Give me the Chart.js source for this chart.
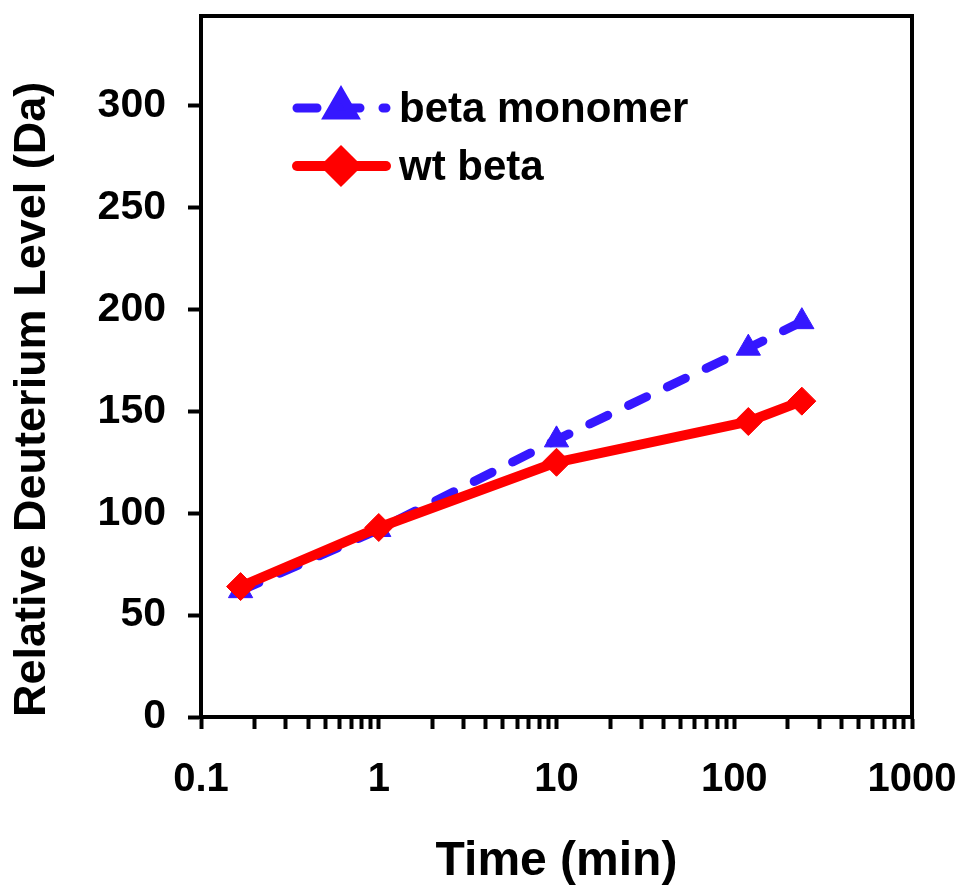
<!DOCTYPE html>
<html>
<head>
<meta charset="utf-8">
<script src="https://cdn.jsdelivr.net/npm/chart.js@4"></script>
<style>
  body { margin: 0; background: #fff; }
</style>
</head>
<body>
<canvas id="deutChart" width="961" height="891"></canvas>
<script>
// time points (min) and deuterium levels (Da)
const times = [0.167, 1, 10, 120, 240];
const monomerLevels = [62, 92, 136, 181, 194];
const wtLevels = [64, 93, 125, 145, 155];
const seriesNames = ['beta monomer', 'wt beta'];
const yTicks = [0, 50, 100, 150, 200, 250, 300];
const xMajor = [0.1, 1, 10, 100, 1000];

const FONT = '"Liberation Sans", Arial, sans-serif';
const BLUE = '#3517ff';
const RED = '#ff0000';

// log ticks: majors plus 2..9 minors in each decade
function logTicks() {
  const out = [];
  xMajor.forEach((m, i) => {
    out.push({ value: m, major: true });
    if (i < xMajor.length - 1) {
      for (let k = 2; k <= 9; k++) out.push({ value: m * k, major: false });
    }
  });
  return out;
}

// kill the automatic label padding so the plot box sits where we want it
function noPad(axis) {
  axis.paddingTop = 0;
  axis.paddingBottom = 0;
  axis.paddingLeft = 0;
  axis.paddingRight = 0;
}

// frame around plot area
const framePlugin = {
  id: 'frame',
  afterDraw(chart) {
    const a = chart.chartArea, ctx = chart.ctx;
    ctx.save();
    ctx.strokeStyle = '#000';
    ctx.lineWidth = 4;
    ctx.strokeRect(a.left, a.top, a.right - a.left, a.bottom - a.top);
    ctx.restore();
  }
};

// legend drawn like the original: line sample with marker in the middle
const legendPlugin = {
  id: 'lineLegend',
  afterDraw(chart) {
    const ctx = chart.ctx;
    const rows = [108, 166];
    chart.data.datasets.slice().sort((a, b) => a.legendIndex - b.legendIndex).forEach((ds, i) => {
      const y = rows[i];
      ctx.save();
      ctx.strokeStyle = ds.borderColor;
      ctx.lineWidth = ds.borderWidth;
      ctx.lineCap = 'round';
      ctx.setLineDash(ds.borderDash || []);
      ctx.beginPath();
      ctx.moveTo(297, y);
      ctx.lineTo(386, y);
      ctx.stroke();
      ctx.setLineDash([]);
      ctx.fillStyle = ds.pointBackgroundColor;
      ctx.strokeStyle = ds.pointBackgroundColor;
      Chart.helpers.drawPoint(ctx, {
        pointStyle: ds.pointStyle, radius: ds.pointRadius, borderWidth: 1
      }, 341, y);
      ctx.fillStyle = '#000';
      ctx.font = 'bold 42px ' + FONT;
      ctx.textBaseline = 'middle';
      ctx.fillText(ds.label, 399, y + 2);
      ctx.restore();
    });
  }
};

const ctx = document.getElementById('deutChart').getContext('2d');
const deutChart = new Chart(ctx, {
  type: 'line',
  data: {
    datasets: [
      {
        label: seriesNames[0],
        legendIndex: 0,
        data: times.map((t, i) => ({ x: t, y: monomerLevels[i] })),
        borderColor: BLUE,
        backgroundColor: BLUE,
        pointBackgroundColor: BLUE,
        pointBorderColor: BLUE,
        borderWidth: 9,
        borderDash: [20, 23],
        borderCapStyle: 'round',
        pointStyle: 'triangle',
        pointRadius: 14,
        pointBorderWidth: 1,
        order: 1,
        fill: false,
        tension: 0
      },
      {
        label: seriesNames[1],
        legendIndex: 1,
        data: times.map((t, i) => ({ x: t, y: wtLevels[i] })),
        borderColor: RED,
        backgroundColor: RED,
        pointBackgroundColor: RED,
        pointBorderColor: RED,
        borderWidth: 10,
        borderJoinStyle: 'round',
        borderCapStyle: 'round',
        pointStyle: 'rectRot',
        pointRadius: 14,
        pointBorderWidth: 1,
        order: 0,
        fill: false,
        tension: 0
      }
    ]
  },
  options: {
    responsive: false,
    animation: false,
    layout: { padding: { top: 16, right: 49, left: 0, bottom: 0 } },
    plugins: {
      legend: { display: false },
      tooltip: { enabled: false }
    },
    scales: {
      x: {
        type: 'logarithmic',
        min: 0.1,
        max: 1000,
        afterBuildTicks: axis => { axis.ticks = logTicks(); },
        afterFit: axis => { axis.height = 174; noPad(axis); },
        border: { display: true, color: '#000', width: 4 },
        grid: {
          drawOnChartArea: false,
          drawTicks: true,
          tickLength: 12,
          tickWidth: 4,
          tickColor: '#000'
        },
        ticks: {
          autoSkip: false,
          maxRotation: 0,
          padding: 27,
          color: '#000',
          font: { family: FONT, size: 40, weight: 'bold' },
          callback: v => xMajor.includes(v) ? String(v) : ''
        },
        title: {
          display: true,
          text: 'Time (min)',
          color: '#000',
          font: { family: FONT, size: 48, weight: 'bold' },
          padding: { top: 0, bottom: 0 }
        }
      },
      y: {
        type: 'linear',
        min: 0,
        max: 344,
        afterBuildTicks: axis => { axis.ticks = yTicks.map(v => ({ value: v })); },
        afterFit: axis => { axis.width = 201; noPad(axis); },
        border: { display: true, color: '#000', width: 4 },
        grid: {
          drawOnChartArea: false,
          drawTicks: true,
          tickLength: 13,
          tickWidth: 4,
          tickColor: '#000'
        },
        ticks: {
          padding: 22,
          color: '#000',
          font: { family: FONT, size: 41, weight: 'bold' }
        },
        title: {
          display: true,
          text: 'Relative Deuterium Level (Da)',
          align: 'start',
          color: '#000',
          font: { family: FONT, size: 45, weight: 'bold' },
          padding: { top: 6, bottom: 0 }
        }
      }
    }
  },
  plugins: [framePlugin, legendPlugin]
});
</script>
</body>
</html>
